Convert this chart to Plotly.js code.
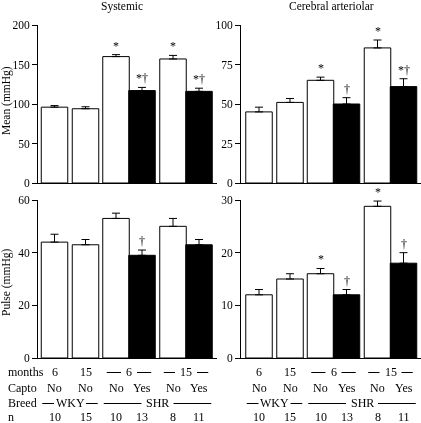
<!DOCTYPE html>
<html>
<head>
<meta charset="utf-8">
<script src="https://cdn.plot.ly/plotly-3.0.1.min.js"></script>
<style>
html,body{margin:0;padding:0;background:#fff;}
#chart{width:421px;height:423px;}
#chart svg{will-change:transform;}
#chart text{-webkit-font-smoothing:antialiased;}
</style>
</head>
<body>
<div id="chart"></div>
<script>
// ---- data ----
const months = [6, 15, 6, 6, 15, 15];
const capto = ['No', 'No', 'No', 'Yes', 'No', 'Yes'];
const breed = ['WKY', 'WKY', 'SHR', 'SHR', 'SHR', 'SHR'];
const nCounts = [10, 15, 10, 13, 8, 11];

const sysMean = [96, 94, 160, 117, 157, 116];
const sysMeanErr = [2, 2.5, 2.5, 4, 4.5, 4];
const cerMean = [45, 51, 65, 50, 85.5, 61];
const cerMeanErr = [3, 2.5, 2, 4, 5, 5];
const sysPulse = [44, 43, 53, 39, 50, 43];
const sysPulseErr = [3, 2, 2, 2, 3, 2];
const cerPulse = [12, 15, 16, 12, 28.8, 18];
const cerPulseErr = [1, 1, 1, 1, 1, 2];

const sysMeanSig = ['', '', '*', '*†', '*', '*†'];
const cerMeanSig = ['', '', '*', '†', '*', '*†'];
const sysPulseSig = ['', '', '', '†', '', ''];
const cerPulseSig = ['', '', '*', '†', '*', '†'];

const sysMeanTicks = [0, 50, 100, 150, 200];
const cerMeanTicks = [0, 25, 50, 75, 100];
const sysPulseTicks = [0, 20, 40, 60];
const cerPulseTicks = [0, 10, 20, 30];

const panelTitles = ['Systemic', 'Cerebral arteriolar'];
const yTitles = ['Mean (mmHg)', 'Pulse (mmHg)'];
const rowLabels = ['months', 'Capto', 'Breed', 'n'];

// ---- layout geometry (pixels) ----
const W = 421, H = 423;
const FONT = 'Liberation Serif, DejaVu Serif, serif';
const xPos = [16.5, 47.5, 78, 104, 135, 161];
const barW = 26.5;
const fills = capto.map(c => c === 'Yes' ? 'black' : 'white');
const px = x => x / W;
const py = y => 1 - y / H;
const F = s => ({family: FONT, size: s, color: '#000000'});

const panels = [
  {xa: 'x', ya: 'y', vals: sysMean, err: sysMeanErr, sig: sysMeanSig, ticks: sysMeanTicks, left: 38, right: 217, top: 25, bottom: 183, x0: 0},
  {xa: 'x2', ya: 'y2', vals: cerMean, err: cerMeanErr, sig: cerMeanSig, ticks: cerMeanTicks, left: 241, right: 421, top: 25, bottom: 183, x0: -1.5},
  {xa: 'x3', ya: 'y3', vals: sysPulse, err: sysPulseErr, sig: sysPulseSig, ticks: sysPulseTicks, left: 38, right: 217, top: 200, bottom: 358, x0: 0},
  {xa: 'x4', ya: 'y4', vals: cerPulse, err: cerPulseErr, sig: cerPulseSig, ticks: cerPulseTicks, left: 241, right: 421, top: 200, bottom: 358, x0: -1.5}
];

const traces = [];
const annotations = [];
const shapes = [];
const layout = {
  width: W, height: H,
  margin: {l: 0, r: 0, t: 0, b: 0},
  paper_bgcolor: 'white', plot_bgcolor: 'white',
  showlegend: false,
  font: F(11),
  bargap: 0
};

panels.forEach((p, i) => {
  const k = i === 0 ? '' : String(i + 1);
  traces.push({
    type: 'bar', x: xPos, y: p.vals, width: barW,
    xaxis: p.xa, yaxis: p.ya,
    marker: {color: fills, line: {color: 'black', width: 1}},
    error_y: {type: 'data', symmetric: false, array: p.err, arrayminus: p.vals.map(() => 0),
              color: 'black', thickness: 1, width: 4},
    hoverinfo: 'none'
  });
  const tmax = p.ticks[p.ticks.length - 1];
  layout['xaxis' + k] = {
    domain: [px(p.left), px(p.right)], range: [p.x0, p.x0 + (p.right - p.left)],
    anchor: p.ya, showgrid: false, zeroline: false, showline: true, linecolor: 'black', linewidth: 1,
    showticklabels: false, ticks: '', fixedrange: true
  };
  layout['yaxis' + k] = {
    domain: [py(p.bottom), py(p.top)], range: [0, tmax],
    anchor: p.xa, showgrid: false, zeroline: false, showline: true, linecolor: 'black', linewidth: 1,
    tickmode: 'array', tickvals: p.ticks, ticktext: p.ticks.map(String),
    ticks: 'outside', ticklen: 5, tickcolor: 'black', tickwidth: 1,
    tickfont: F(11.5), fixedrange: true
  };
  p.sig.forEach((s, j) => {
    if (!s) return;
    annotations.push({
      xref: p.xa, yref: p.ya, x: xPos[j], y: p.vals[j] + p.err[j],
      text: s, showarrow: false, xanchor: 'center', yanchor: 'bottom', yshift: 0,
      font: F(12)
    });
  });
});

// panel titles
[[122, 0], [331, 1]].forEach(([x, i]) => {
  annotations.push({xref: 'paper', yref: 'paper', x: px(x), y: py(6), text: panelTitles[i],
    showarrow: false, xanchor: 'center', yanchor: 'middle', font: F(11.5)});
});
// y titles
[[101, 0], [282, 1]].forEach(([y, i]) => {
  annotations.push({xref: 'paper', yref: 'paper', x: px(6), y: py(y), text: yTitles[i], textangle: -90,
    showarrow: false, xanchor: 'center', yanchor: 'middle', font: F(11.5)});
});

// table below
const rowY = [372, 388, 403, 417];
rowLabels.forEach((lab, r) => {
  annotations.push({xref: 'paper', yref: 'paper', x: px(6), y: py(rowY[r]), text: lab,
    showarrow: false, xanchor: 'left', yanchor: 'middle', font: F(12)});
});

function groupRuns(keys) {
  const runs = [];
  keys.forEach((k, j) => {
    if (runs.length && runs[runs.length - 1].key === k) runs[runs.length - 1].end = j;
    else runs.push({key: k, start: j, end: j});
  });
  return runs;
}

[['x', 0], ['x2', -1.5]].forEach(([xa, off]) => {
  const textAt = (x, y, t) => annotations.push({xref: xa, yref: 'paper', x: x, y: py(y), text: t,
    showarrow: false, xanchor: 'center', yanchor: 'middle', font: F(12)});
  const lineSeg = (x0, x1, y) => shapes.push({type: 'line', xref: xa, yref: 'paper', x0: x0, x1: x1,
    y0: py(y), y1: py(y), line: {color: 'black', width: 1}});
  const spanRow = (runs, labelOf, y, inset, gap) => {
    runs.forEach(run => {
      const c = (xPos[run.start] + xPos[run.end]) / 2;
      const t = labelOf(run.start);
      textAt(c, y, t);
      if (run.end > run.start) {
        const a = xPos[run.start] - barW / 2 + inset, b = xPos[run.end] + barW / 2 - inset;
        const hw = gap(t);
        lineSeg(a, c - hw, y + 0.5);
        lineSeg(c + hw, b, y + 0.5);
      }
    });
  };
  spanRow(groupRuns(months.map((m, j) => breed[j] + m)), j => String(months[j]), rowY[0], 4, t => t.length * 3 + 5);
  capto.forEach((c, j) => textAt(xPos[j], rowY[1], c));
  spanRow(groupRuns(breed), j => breed[j], rowY[2], 1, t => t.length * 5 + 1);
  nCounts.forEach((n, j) => textAt(xPos[j], rowY[3], String(n)));
});

layout.annotations = annotations;
layout.shapes = shapes;

Plotly.newPlot('chart', traces, layout, {displayModeBar: false, staticPlot: true});
</script>
</body>
</html>
